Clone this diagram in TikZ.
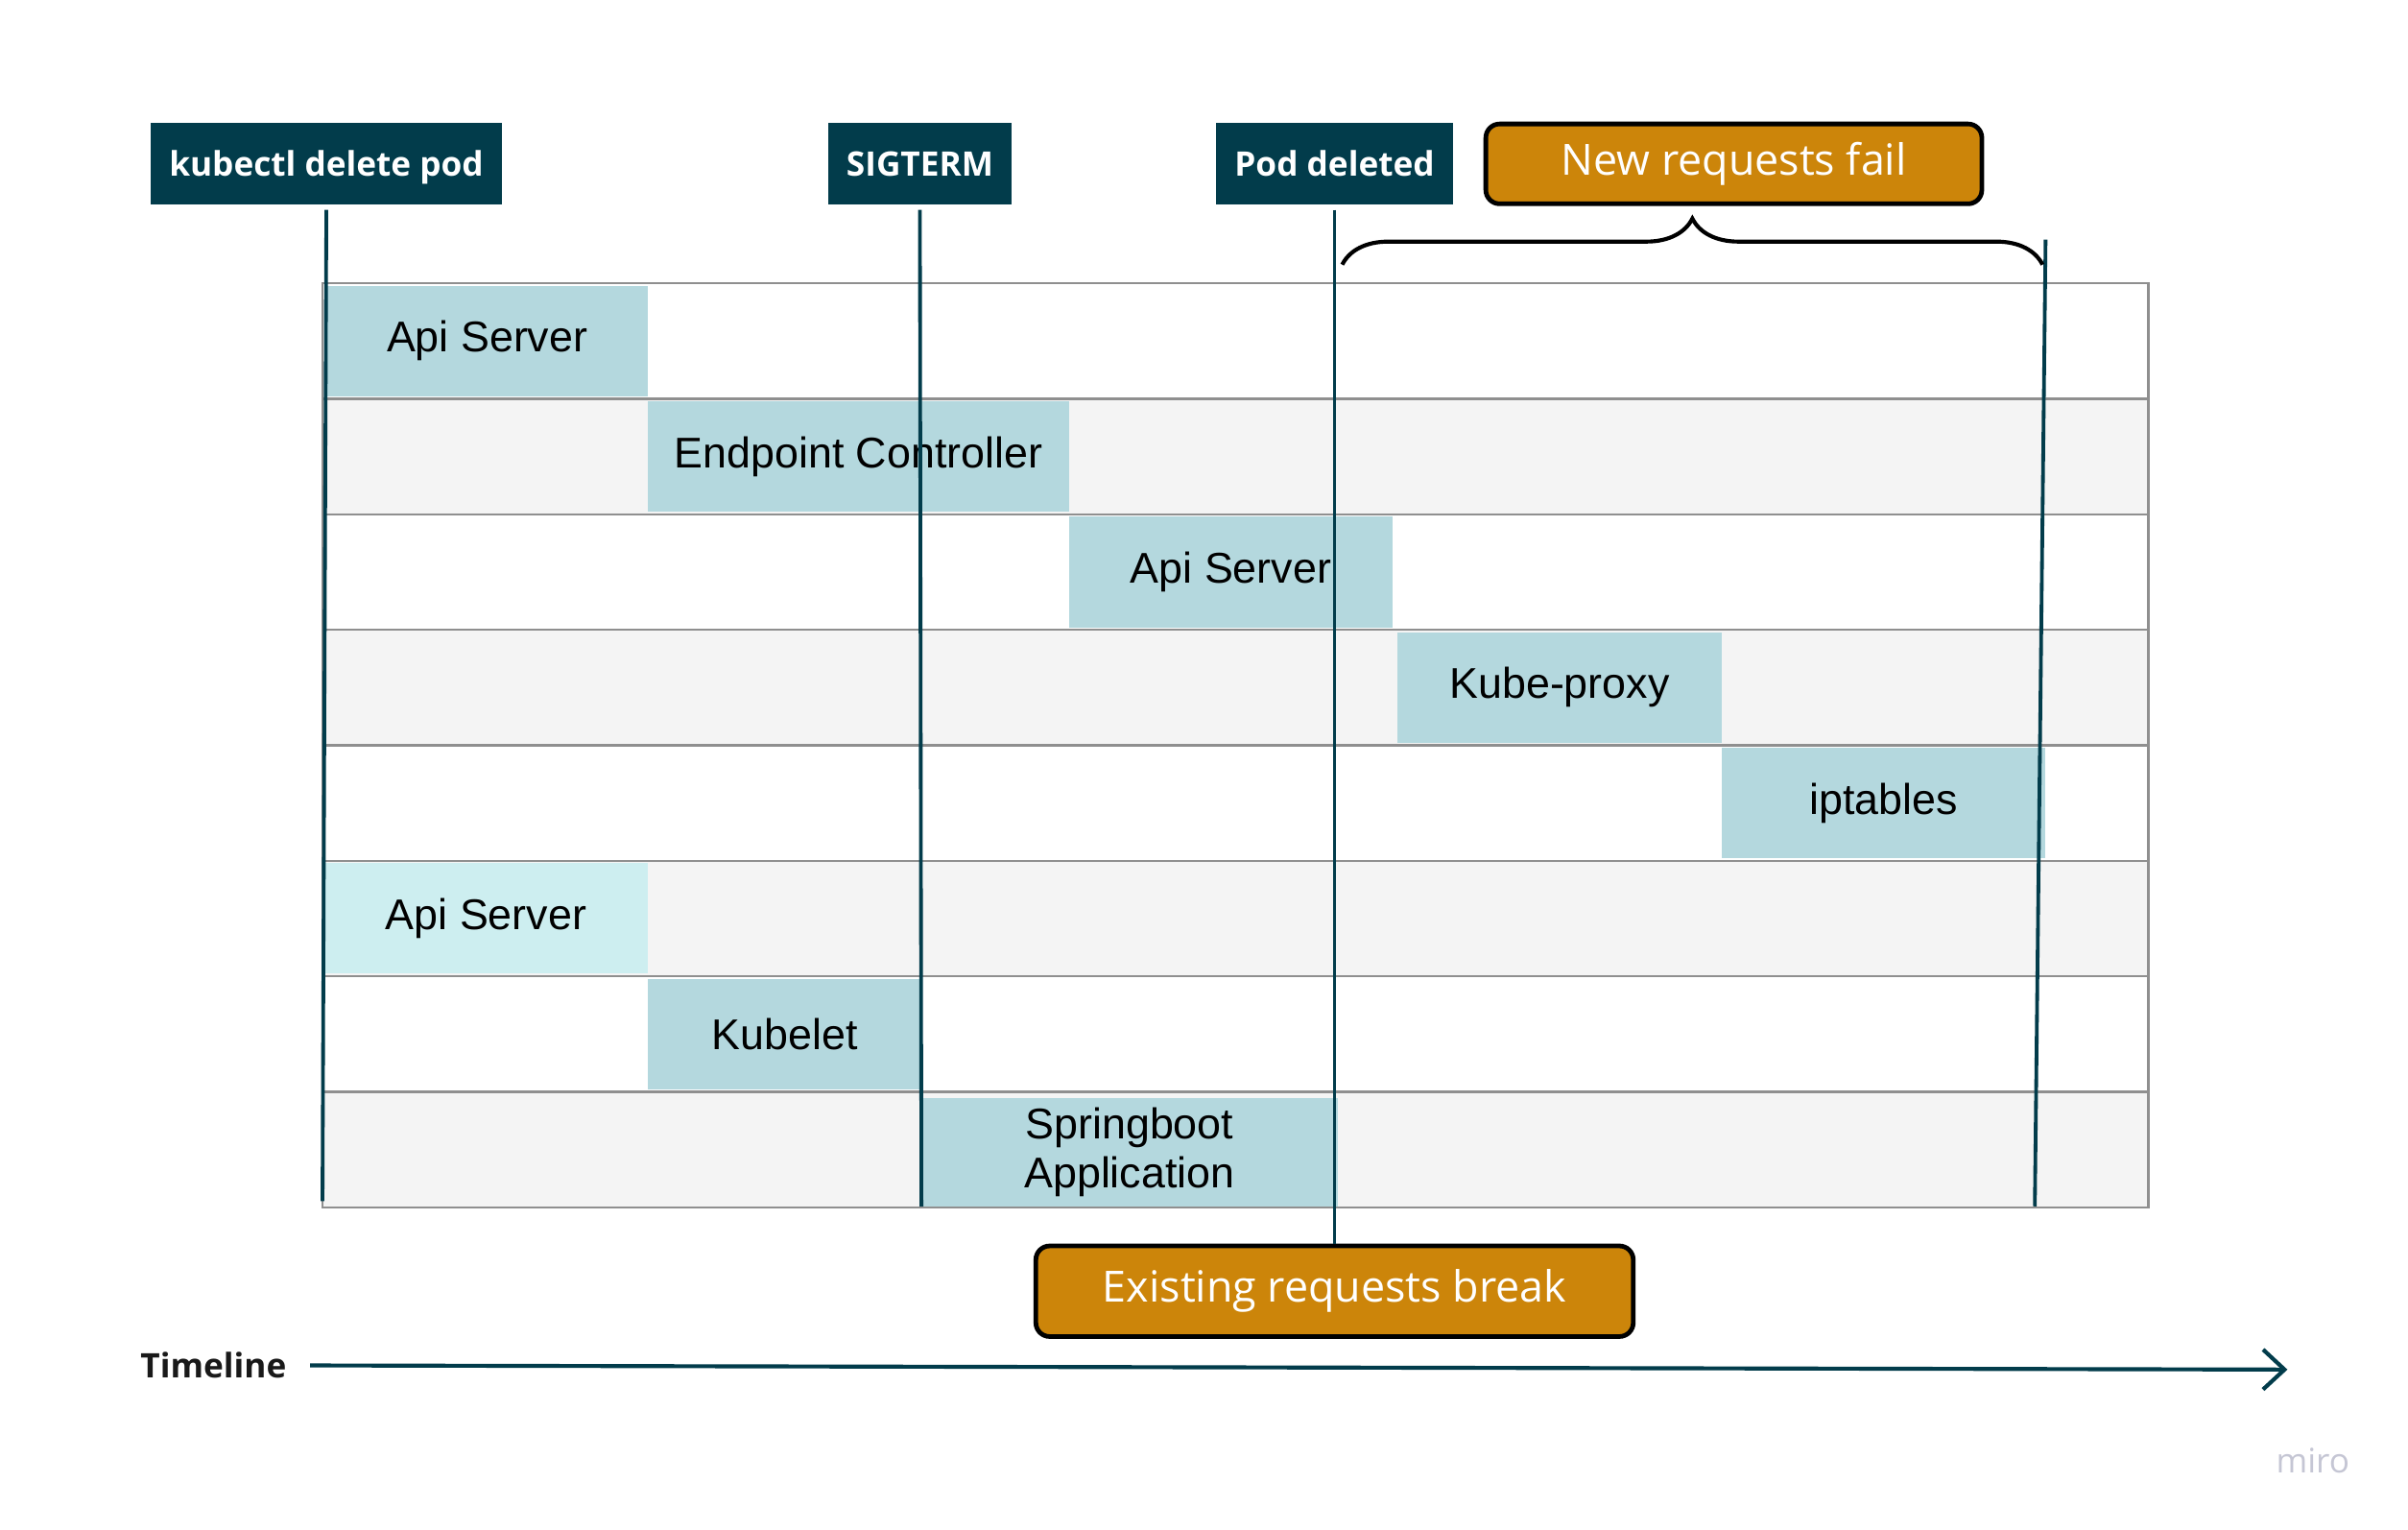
\documentclass[tikz,border=0pt]{standalone}
\usepackage{fontspec}
\setmainfont{Liberation Sans}
\newfontfamily\opensans{Open Sans}
\usetikzlibrary{arrows.meta, positioning, decorations.pathreplacing}

\definecolor{evtteal}{HTML}{023C4B}
\definecolor{barblue}{HTML}{B4D8DE}
\definecolor{barlight}{HTML}{CDEEF0}
\definecolor{rowgray}{HTML}{F4F4F4}
\definecolor{gridgray}{HTML}{8F8F8F}
\definecolor{alertorange}{HTML}{CC850A}
\definecolor{mirogray}{HTML}{C5C6D4}

\begin{document}
\begin{tikzpicture}[
    x=1pt, y=-1pt,
    bar/.style={rectangle, fill=barblue, inner sep=0pt, minimum height=72pt, align=center, font=\fontsize{28}{32}\selectfont},
    event/.style={rectangle, fill=evtteal, text=white, inner xsep=12pt, text depth=0pt, minimum height=53pt, font=\opensans\bfseries\fontsize{22}{26}\selectfont},
    alert/.style={rectangle, rounded corners=9pt, draw=black, line width=3pt, fill=alertorange, text=white, font=\opensans\fontsize{28}{32}\selectfont},
    eventline/.style={draw=evtteal, line width=2.4pt},
    rowline/.style={draw=gridgray, line width=1.5pt},
    bracket/.style={draw=black, line width=2.6pt, decorate, decoration={brace, amplitude=30pt}},
    timearrow/.style={-{Straight Barb[length=14pt, width=26pt]}, draw=evtteal, line width=2.6pt},
    timelabel/.style={font=\opensans\bfseries\fontsize{22}{26}\selectfont, text=black!90},
]
\useasboundingbox (0,0) rectangle (1568,996);

% Table rows
\foreach \r in {1,3,5,7}
  \fill[rowgray] (210,{184.4+\r*75.2}) rectangle (1399,{259.6+\r*75.2});
\foreach \r in {1,...,7}
  \draw[rowline] (210,{184.4+\r*75.2}) -- (1399,{184.4+\r*75.2});
\draw[rowline] (210,184.4) rectangle (1399,786);

% Components
\node[bar, minimum width=209.5pt] (api1) at (317.25,222) {Api Server};
\node[bar, minimum width=274pt] (endctl) at (559,297.2) {Endpoint Controller};
\node[bar, minimum width=211pt] (api2) at (801.5,372.4) {Api Server};
\node[bar, minimum width=211pt] (kproxy) at (1015.5,447.6) {Kube-proxy};
\node[bar, minimum width=211pt] (iptab) at (1226.5,522.8) {iptables};
\node[bar, fill=barlight, minimum width=211pt] (api3) at (316.5,598) {Api Server};
\node[bar, minimum width=178pt] (kubelet) at (511,673.2) {Kubelet};
\node[bar, minimum width=271pt, minimum height=70.5pt] (spring) at (735.5,750) {Springboot\\Application};

% Events
\node[event] (kubectl) at (212.5,106.5) {kubectl delete pod};
\node[event] (sigterm) at (599,106.5) {SIGTERM};
\node[event] (poddel) at (869,106.5) {Pod deleted};

% Outcomes
\node[alert, minimum width=323pt, minimum height=52pt] (newfail) at (1129,106.7) {New requests fail};
\node[alert, minimum width=389pt, minimum height=59pt] (existing) at (869,840.7) {Existing requests break};

% Event lines
\coordinate (kubectl end) at (210,782);
\coordinate (sigterm end) at (600,785.4);
\coordinate (fail top) at (1332,156);
\coordinate (fail end) at (1325,785.4);
\draw[eventline] ([yshift=-3.5pt]kubectl.south) -- (kubectl end);
\draw[eventline] ([yshift=-3.5pt]sigterm.south) -- (sigterm end);
\draw[eventline] ([yshift=-3.5pt]poddel.south) -- (existing.north);
\draw[eventline] (fail top) -- (fail end);

% Brace under new requests fail
\coordinate (brace left) at (874,172.3);
\coordinate (brace right) at (1330,172.3);
\draw[bracket] (brace left) -- (brace right);

% Timeline
\node[timelabel] (timeline) at (139,889) {Timeline};
\coordinate (time end) at (1489.5,891.7);
\draw[timearrow] ([xshift=12pt]timeline.east) -- (time end);

\node[font=\opensans\fontsize{22}{26}\selectfont, text=mirogray] (miro) at (1506,951) {miro};

\end{tikzpicture}
\end{document}
